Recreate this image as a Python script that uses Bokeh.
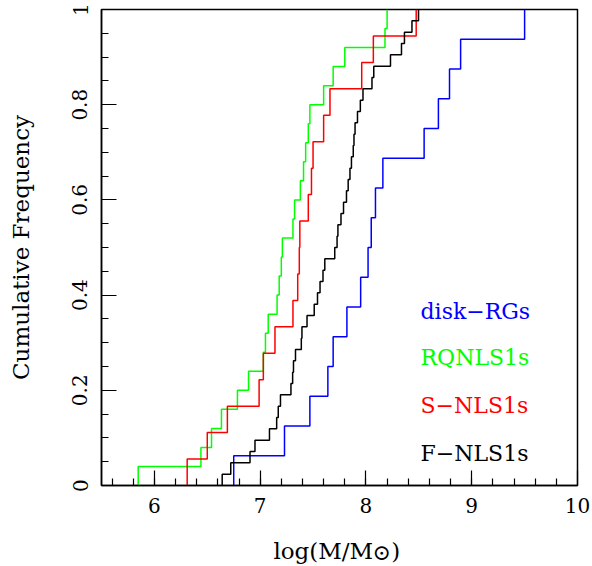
import numpy as np
from bokeh.plotting import figure
from bokeh.layouts import column
from bokeh.models import FixedTicker, Label, Range1d
from bokeh.embed import file_html
from bokeh.resources import INLINE

# log(M/Msun) values of each sample
disk_rgs = [6.75, 7.23, 7.47, 7.64, 7.69, 7.82, 7.95, 8.02, 8.05, 8.09,
            8.16, 8.55, 8.685, 8.79, 8.895, 9.50]
rq_nls1s = [5.847, 6.44, 6.54, 6.634, 6.785, 6.89, 7.03, 7.05, 7.076, 7.16,
            7.18, 7.20, 7.21, 7.31, 7.325, 7.38, 7.41, 7.43, 7.455, 7.47,
            7.60, 7.69, 7.80, 8.18, 8.20]
s_nls1s = [6.31, 6.50, 6.69, 6.99, 7.03, 7.14, 7.31, 7.355, 7.37, 7.375,
           7.455, 7.485, 7.50, 7.60, 7.66, 7.96, 8.07, 8.475]
f_nls1s = [6.641, 6.722, 6.904, 6.951, 7.088, 7.156, 7.171, 7.192, 7.291, 7.307,
           7.315, 7.334, 7.389, 7.395, 7.443, 7.511, 7.542, 7.566, 7.594, 7.611,
           7.705, 7.727, 7.735, 7.764, 7.788, 7.816, 7.832, 7.849, 7.863, 7.880,
           7.887, 7.897, 7.920, 7.947, 7.972, 8.057, 8.074, 8.232, 8.336, 8.364,
           8.435, 8.497]

series_names = ["disk\u2212RGs", "RQNLS1s", "S\u2212NLS1s", "F\u2212NLS1s"]
series_colors = ["#0000ff", "#00ff00", "#ff0000", "#000000"]
series_data = [disk_rgs, rq_nls1s, s_nls1s, f_nls1s]

x_major = [6, 7, 8, 9, 10]
y_major = [0, 0.2, 0.4, 0.6, 0.8, 1]
y_labels = ["0", "0.2", "0.4", "0.6", "0.8", "1"]

SERIF = "DejaVu Serif"
W = 592
LEFT, RIGHT = 101, 15

p = figure(width=W, height=525, x_range=Range1d(5.5, 10), y_range=Range1d(0, 1),
           output_backend="svg", toolbar_location=None,
           min_border_left=LEFT, min_border_right=RIGHT, min_border_top=9,
           min_border_bottom=40)
p.grid.visible = False
p.outline_line_color = "black"
p.outline_line_width = 1.5
p.outline_line_alpha = 1.0

for vals, col in zip(series_data, series_colors):
    xs = np.sort(np.array(vals, dtype=float))
    n = len(xs)
    yc = np.arange(1, n + 1) / n
    sx = np.concatenate([[xs[0]], xs])
    sy = np.concatenate([[0.0], yc])
    p.step(sx, sy, mode="after", line_color=col, line_width=1.5)

# axes
p.xaxis.ticker = FixedTicker(ticks=x_major,
                             minor_ticks=list(np.round(np.arange(5.6, 10.0, 0.2), 2)))
p.yaxis.ticker = FixedTicker(ticks=y_major,
                             minor_ticks=list(np.round(np.arange(0.05, 1.0, 0.05), 2)))
p.yaxis.major_label_overrides = {t: l for t, l in zip(y_major, y_labels)}
for ax in (p.xaxis, p.yaxis):
    ax.major_tick_in = 15
    ax.major_tick_out = 0
    ax.minor_tick_in = 7
    ax.minor_tick_out = 0
    ax.axis_line_width = 1.5
    ax.major_tick_line_width = 1.2
    ax.minor_tick_line_width = 1.2
    ax.major_label_text_font = SERIF
    ax.major_label_text_font_size = "20px"
    ax.major_label_text_color = "black"
p.xaxis.major_label_standoff = 12
p.yaxis.major_label_orientation = "vertical"
p.yaxis.major_label_standoff = 14
p.yaxis.axis_label = "Cumulative Frequency"
p.yaxis.axis_label_text_font = SERIF
p.yaxis.axis_label_text_font_size = "23px"
p.yaxis.axis_label_text_font_style = "normal"
p.yaxis.axis_label_text_color = "black"
p.yaxis.axis_label_standoff = 36

# legend texts
legend_y = [0.366, 0.268, 0.168, 0.068]
for name, col, ly in zip(series_names, series_colors, legend_y):
    p.add_layout(Label(x=8.516, y=ly, text=name, text_color=col,
                       text_font=SERIF, text_font_size="22px",
                       text_baseline="alphabetic"))

# strip below the plot carrying the x-axis title (with subscript sun symbol)
H2 = 41
q = figure(width=W, height=H2, x_range=p.x_range, y_range=Range1d(H2, 0),
           output_backend="svg", toolbar_location=None,
           x_axis_type=None, y_axis_type=None,
           min_border_left=LEFT, min_border_right=RIGHT, min_border_top=0,
           min_border_bottom=0)
q.grid.visible = False
q.outline_line_color = None
q.add_layout(Label(x=8.068, y=25, text="log(M/M", text_align="right",
                   text_baseline="alphabetic", text_font=SERIF,
                   text_font_size="23px", text_color="black"))
q.add_layout(Label(x=8.150, y=27, text="\u2299", text_align="center",
                   text_baseline="middle", text_font=SERIF,
                   text_font_size="22px", text_color="black"))
q.add_layout(Label(x=8.240, y=25, text=")", text_align="left",
                   text_baseline="alphabetic", text_font=SERIF,
                   text_font_size="23px", text_color="black"))

layout = column(p, q, spacing=0)
open("out.html", "w").write(file_html(layout, INLINE))
